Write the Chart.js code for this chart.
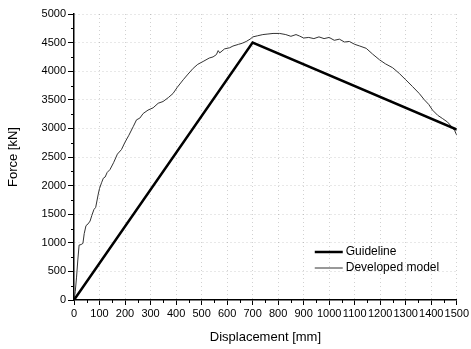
<!DOCTYPE html>
<html lang="en">
<head>
  <meta charset="UTF-8">
  <title>Force vs Displacement</title>
  <script src="https://cdn.jsdelivr.net/npm/chart.js"></script>
  <style>
    html, body { margin: 0; padding: 0; background: #fff; overflow: hidden; }
    #chart { display: block; }
  </style>
</head>
<body>
  <canvas id="chart" width="471" height="349"></canvas>

  <script>
    // Guideline (bilinear)
    const guideX = [0, 700, 1500];
    const guideY = [0, 4500, 2980];

    // Developed model
    const modelX = [0, 5, 10, 15, 20, 28, 35, 40, 47, 55, 63, 70, 78, 85, 95, 100, 108, 115, 122, 130,
      141, 155, 170, 186, 200, 215, 232, 245, 258, 271, 290, 310, 330, 349, 370, 388, 405, 428, 447, 467,
      485, 506, 530, 545, 558, 565, 571, 590, 610, 623, 645, 660, 675, 690, 701, 720, 740, 760, 780, 806,
      830, 850, 870, 884, 900, 920, 940, 960, 980, 1000, 1020, 1040, 1060, 1079, 1100, 1120, 1145, 1170, 1197, 1220,
      1249, 1275, 1300, 1327, 1353, 1373, 1390, 1405, 1425, 1445, 1464, 1480, 1492, 1500];
    const modelY = [0, 150, 400, 700, 960, 970, 990, 1160, 1300, 1330, 1380, 1480, 1580, 1620, 1850, 1950, 2050, 2130, 2150, 2230,
      2280, 2400, 2550, 2630, 2760, 2880, 3030, 3150, 3180, 3260, 3320, 3360, 3440, 3470, 3540, 3610, 3720, 3850, 3950, 4050,
      4120, 4170, 4230, 4250, 4290, 4360, 4320, 4390, 4410, 4440, 4470, 4490, 4520, 4560, 4600, 4620, 4640, 4650, 4660, 4660,
      4640, 4610, 4640, 4615, 4580, 4590, 4570, 4600, 4570, 4590, 4540, 4560, 4510, 4520, 4470, 4440, 4400, 4300, 4200, 4130,
      4060, 3960, 3850, 3730, 3610, 3500, 3420, 3320, 3230, 3170, 3110, 3030, 2960, 2880];

    const seriesNames = ["Guideline", "Developed model"];

    const FONT = "'Liberation Sans', Arial, sans-serif";

    const toPoints = (xs, ys) => xs.map((x, i) => ({ x: x, y: ys[i] }));

    // short minor ticks between the labelled ones
    const minorTicks = {
      id: "minorTicks",
      afterDraw(chart) {
        const ctx = chart.ctx;
        const xs = chart.scales.x, ys = chart.scales.y;
        ctx.save();
        ctx.strokeStyle = "#000";
        ctx.lineWidth = 1;
        ctx.beginPath();
        xs.ticks.forEach(t => {
          if (t.value % 100 !== 0) {
            const px = Math.round(xs.getPixelForValue(t.value)) + 0.5;
            ctx.moveTo(px, xs.top);
            ctx.lineTo(px, xs.top + 3);
          }
        });
        ys.ticks.forEach(t => {
          if (t.value % 500 !== 0) {
            const py = Math.round(ys.getPixelForValue(t.value)) + 0.5;
            ctx.moveTo(ys.right, py);
            ctx.lineTo(ys.right - 3, py);
          }
        });
        ctx.stroke();
        ctx.restore();
      }
    };

    // legend inside the plot, bottom right
    const insideLegend = {
      id: "insideLegend",
      afterDatasetsDraw(chart) {
        const ctx = chart.ctx;
        const area = chart.chartArea;
        const x0 = area.right - 142;
        ctx.save();
        ctx.font = "12px " + FONT;
        ctx.textBaseline = "middle";
        chart.data.datasets.forEach((ds, i) => {
          const y = area.bottom - 48 + i * 16;
          ctx.strokeStyle = ds.borderColor;
          ctx.lineWidth = ds.borderWidth;
          ctx.beginPath();
          ctx.moveTo(x0, y);
          ctx.lineTo(x0 + 28, y);
          ctx.stroke();
          ctx.fillStyle = "#000";
          ctx.fillText(ds.label, x0 + 31, y);
        });
        ctx.restore();
      }
    };

    const majorX = v => v % 100 === 0;
    const majorY = v => v % 500 === 0;

    new Chart(document.getElementById("chart"), {
      type: "line",
      data: {
        datasets: [
          {
            label: seriesNames[0],
            data: toPoints(guideX, guideY),
            borderColor: "#000",
            borderWidth: 2.5,
            pointRadius: 0,
            tension: 0,
            order: 0
          },
          {
            label: seriesNames[1],
            data: toPoints(modelX, modelY),
            borderColor: "#333",
            borderWidth: 1,
            pointRadius: 0,
            tension: 0,
            order: 1
          }
        ]
      },
      options: {
        responsive: false,
        animation: false,
        devicePixelRatio: 1,
        layout: { padding: { top: 14, right: 13, left: 0, bottom: 0 } },
        plugins: {
          legend: { display: false },
          tooltip: { enabled: false }
        },
        scales: {
          x: {
            type: "linear",
            min: 0,
            max: 1500,
            afterFit: s => { s.height = 49; },
            ticks: {
              stepSize: 50,
              autoSkip: false,
              maxRotation: 0,
              minRotation: 0,
              padding: 2,
              color: "#000",
              font: { family: FONT, size: 11 },
              callback: v => majorX(v) ? v : ""
            },
            grid: {
              color: c => (c.tick && majorX(c.tick.value) && c.tick.value > 0) ? "rgba(0,0,0,0.18)" : "rgba(0,0,0,0)",
              tickColor: c => (c.tick && majorX(c.tick.value)) ? "#000" : "rgba(0,0,0,0)",
              tickLength: 5,
              lineWidth: 1
            },
            border: { display: true, color: "#000", width: 1.5, dash: [1, 3] },
            title: {
              display: true,
              text: "Displacement [mm]",
              color: "#000",
              font: { family: FONT, size: 13 },
              padding: { top: 4, bottom: 4 }
            }
          },
          y: {
            min: 0,
            max: 5000,
            afterFit: s => { s.width = 74; },
            ticks: {
              stepSize: 250,
              autoSkip: false,
              padding: 2,
              color: "#000",
              font: { family: FONT, size: 11 },
              callback: v => majorY(v) ? v : ""
            },
            grid: {
              color: c => (c.tick && majorY(c.tick.value) && c.tick.value > 0) ? "rgba(0,0,0,0.18)" : "rgba(0,0,0,0)",
              tickColor: c => (c.tick && majorY(c.tick.value)) ? "#000" : "rgba(0,0,0,0)",
              tickLength: 6,
              lineWidth: 1
            },
            border: { display: true, color: "#000", width: 1.5, dash: [1, 3] },
            title: {
              display: true,
              text: "Force [kN]",
              color: "#000",
              font: { family: FONT, size: 13 },
              padding: { top: 6, bottom: 4 }
            }
          }
        }
      },
      plugins: [minorTicks, insideLegend]
    });
  </script>
</body>
</html>
